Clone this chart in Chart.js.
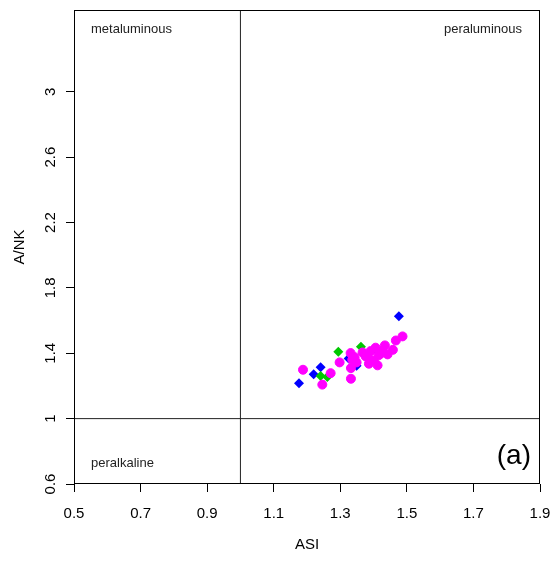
<!DOCTYPE html>
<html>
<head>
<meta charset="utf-8">
<script src="https://cdn.jsdelivr.net/npm/chart.js@4"></script>
<style>
  html, body { margin: 0; padding: 0; background: #fff; }
</style>
</head>
<body>
<canvas id="asiChart" width="555" height="562"></canvas>
<script>
// tick values
const xTicks = [0.5, 0.7, 0.9, 1.1, 1.3, 1.5, 1.7, 1.9];
const yTicks = [0.6, 1, 1.4, 1.8, 2.2, 2.6, 3];

// samples (ASI, A/NK)
const magentaASI = [1.188, 1.246, 1.271, 1.298, 1.332, 1.332, 1.336, 1.331, 1.343, 1.376, 1.386, 1.386, 1.391,
  1.401, 1.406, 1.412, 1.415, 1.421, 1.427, 1.434, 1.442, 1.458, 1.467, 1.487, 1.367, 1.349];
const magentaANK = [1.299, 1.208, 1.278, 1.344, 1.244, 1.309, 1.360, 1.401, 1.376, 1.381, 1.367, 1.336, 1.413,
  1.356, 1.434, 1.326, 1.387, 1.397, 1.417, 1.448, 1.393, 1.421, 1.478, 1.503, 1.405, 1.344];
const blueASI = [1.476, 1.241, 1.220, 1.176, 1.349, 1.325, 1.403];
const blueANK = [1.627, 1.315, 1.271, 1.216, 1.324, 1.368, 1.429];
const greenASI = [1.294, 1.362, 1.241, 1.261, 1.370];
const greenANK = [1.409, 1.440, 1.260, 1.254, 1.399];

// boundaries ASI = 1 and A/NK = 1
const xRange = [0.5, 1.9];
const yRange = [0.6, 3.5];

const toPoints = (xs, ys) => xs.map((x, i) => ({ x: x, y: ys[i] }));
const FONT = "'Liberation Sans', Arial, sans-serif";

// box, rotated y labels and field names
const decor = {
  id: 'decor',
  afterDraw(chart) {
    const { ctx, chartArea: a, scales } = chart;
    ctx.save();
    ctx.strokeStyle = '#000';
    ctx.lineWidth = 1;
    ctx.strokeRect(Math.round(a.left) + 0.5, Math.round(a.top) + 0.5,
      Math.round(a.right - a.left) - 1, Math.round(a.bottom - a.top) - 1);

    ctx.fillStyle = '#000';
    ctx.font = '15px ' + FONT;
    ctx.textAlign = 'center';
    ctx.textBaseline = 'middle';
    yTicks.forEach(v => {
      const py = scales.y.getPixelForValue(v);
      ctx.save();
      ctx.translate(51, py);
      ctx.rotate(-Math.PI / 2);
      ctx.fillText(String(v), 0, 0);
      ctx.restore();
    });

    ctx.fillStyle = '#222';
    ctx.font = '13px ' + FONT;
    ctx.textAlign = 'left';
    ctx.fillText('metaluminous', a.left + 17, 29);
    ctx.fillText('peralkaline', a.left + 17, 463);
    ctx.textAlign = 'right';
    ctx.fillText('peraluminous', a.right - 18, 29);
    ctx.fillStyle = '#000';
    ctx.font = '28px ' + FONT;
    ctx.fillText('(a)', a.right - 9, 456);
    ctx.restore();
  }
};

const axisCommon = {
  type: 'linear',
  border: { display: false },
  grid: { drawOnChartArea: false, drawTicks: true, tickLength: 8, color: '#000', lineWidth: 1 }
};

new Chart(document.getElementById('asiChart'), {
  type: 'scatter',
  data: {
    datasets: [
      {
        data: toPoints(magentaASI, magentaANK),
        pointStyle: 'circle', pointRadius: 4.5,
        backgroundColor: '#ff00ff', borderColor: '#ff00ff', borderWidth: 1
      },
      {
        data: toPoints(greenASI, greenANK),
        pointStyle: 'rectRot', pointRadius: 5,
        backgroundColor: '#00c800', borderColor: '#00c800', borderWidth: 0
      },
      {
        data: toPoints(blueASI, blueANK),
        pointStyle: 'rectRot', pointRadius: 5,
        backgroundColor: '#0000ff', borderColor: '#0000ff', borderWidth: 0
      },
      {
        data: [{ x: 1, y: yRange[0] }, { x: 1, y: yRange[1] }],
        showLine: true, pointRadius: 0, borderColor: '#222', borderWidth: 1
      },
      {
        data: [{ x: xRange[0], y: 1 }, { x: xRange[1], y: 1 }],
        showLine: true, pointRadius: 0, borderColor: '#222', borderWidth: 1
      }
    ]
  },
  options: {
    responsive: false,
    devicePixelRatio: 1,
    animation: false,
    layout: { padding: { top: 10, right: 15, left: 0, bottom: 0 } },
    plugins: { legend: { display: false }, tooltip: { enabled: false } },
    scales: {
      x: {
        ...axisCommon,
        min: xRange[0], max: xRange[1],
        afterBuildTicks: s => { s.ticks = xTicks.map(v => ({ value: v })); },
        afterFit: s => { s.height = 78; s.paddingLeft = 0; s.paddingRight = 0; },
        ticks: { color: '#000', font: { size: 15, family: FONT }, padding: 13, maxRotation: 0, autoSkip: false,
          callback: v => String(v) },
        title: { display: true, text: 'ASI', color: '#000', font: { size: 15, family: FONT },
          padding: { top: 0, bottom: 8 } }
      },
      y: {
        ...axisCommon,
        min: yRange[0], max: yRange[1],
        afterBuildTicks: s => { s.ticks = yTicks.map(v => ({ value: v })); },
        afterFit: s => { s.width = 74; s.paddingTop = 0; s.paddingBottom = 0; },
        ticks: { display: false },
        title: { display: true, text: 'A/NK', color: '#000', font: { size: 15, family: FONT },
          padding: { top: 11, bottom: 0 } }
      }
    }
  },
  plugins: [decor]
});
</script>
</body>
</html>
